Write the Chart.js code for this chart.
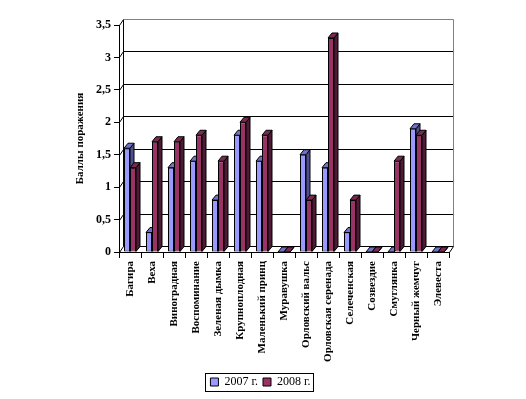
<!DOCTYPE html>
<html><head><meta charset="utf-8">
<script src="https://cdn.jsdelivr.net/npm/chart.js@4/dist/chart.umd.min.js"></script>
<style>html,body{margin:0;padding:0;background:#fff;}canvas{display:block;}</style>
</head><body>
<canvas id="c" width="526" height="399"></canvas>
<script>
const categories = ['Багира','Веха','Виноградная','Воспоминание','Зеленая дымка','Крупноплодная','Маленький принц','Муравушка','Орловский вальс','Орловская серенада','Селеченская','Созвездие','Смуглянка','Черный жемчуг','Элевеста'];
const series2007 = [1.6, 0.3, 1.3, 1.4, 0.8, 1.8, 1.4, 0, 1.5, 1.3, 0.3, 0, 0, 1.9, 0];
const series2008 = [1.3, 1.7, 1.7, 1.8, 1.4, 2.0, 1.8, 0, 0.8, 3.3, 0.8, 0, 1.4, 1.8, 0];
const seriesNames = ['2007 г.', '2008 г.'];
const yAxisTitle = 'Баллы поражения';
const yMin = 0, yMax = 3.5, yStep = 0.5;

const SERIF = "'Liberation Serif', 'Times New Roman', serif";
const FRONT = ['#9999FF', '#993366'];
const TOP = ['#7272C4', '#7A2952'];
const SIDE = ['#4F4F8E', '#4E1A35'];
const DX = 4, DY = -6, BDX = 4, BDY = -5;

function poly(ctx, pts, fill) {
  ctx.beginPath();
  ctx.moveTo(pts[0][0], pts[0][1]);
  for (let i = 1; i < pts.length; i++) ctx.lineTo(pts[i][0], pts[i][1]);
  ctx.closePath();
  ctx.fillStyle = fill; ctx.fill();
  ctx.strokeStyle = '#000'; ctx.lineWidth = 1; ctx.stroke();
}
function line(ctx, x1, y1, x2, y2, c) {
  ctx.beginPath(); ctx.moveTo(x1, y1); ctx.lineTo(x2, y2);
  ctx.strokeStyle = c; ctx.lineWidth = 1; ctx.stroke();
}

const threeD = {
  id: 'threeD',
  beforeDatasetsDraw(chart) {
    const ctx = chart.ctx, a = chart.chartArea, ys = chart.scales.y;
    ctx.save();
    const L = a.left + 0.5, R = a.right + 0.5;
    ys.ticks.forEach(t => {
      const py = Math.round(ys.getPixelForValue(t.value)) + 0.5;
      if (t.value < yMax) line(ctx, L + DX, py + DY, R + DX, py + DY, '#000');
      line(ctx, L, py, L + DX, py + DY, '#000');
    });
    const T = Math.round(a.top) + 0.5 + DY, B = Math.round(a.bottom) + 0.5 + DY;
    line(ctx, L + DX, T, L + DX, B, '#000');
    line(ctx, L + DX, T, R + DX, T, '#808080');
    line(ctx, R + DX, T, R + DX, B, '#808080');
    line(ctx, R, Math.round(a.bottom) + 0.5, R + DX, B, '#000');
    const metas = [0, 1].map(i => chart.getDatasetMeta(i));
    for (let j = 0; j < categories.length; j++) {
      metas.forEach((m, i) => {
        const p = m.data[j].getProps(['x', 'y', 'base', 'width'], true);
        const x1 = p.x - p.width / 2, x2 = p.x + p.width / 2;
        const top = p.y, base = p.base;
        poly(ctx, [[x2, top], [x2 + BDX, top + BDY], [x2 + BDX, base + BDY], [x2, base]], SIDE[i]);
        poly(ctx, [[x1, top], [x2, top], [x2 + BDX, top + BDY], [x1 + BDX, top + BDY]], TOP[i]);
      });
    }
    ctx.restore();
  },
  afterDraw(chart) {
    const lg = chart.legend;
    if (!lg || !lg.legendHitBoxes || !lg.legendHitBoxes.length) return;
    const hb = lg.legendHitBoxes;
    const l = Math.min(...hb.map(h => h.left)), r = Math.max(...hb.map(h => h.left + h.width));
    const t = Math.min(...hb.map(h => h.top)), b = Math.max(...hb.map(h => h.top + h.height));
    const ctx = chart.ctx;
    ctx.save();
    ctx.strokeStyle = '#000'; ctx.lineWidth = 1;
    ctx.strokeRect(Math.round(l - 5) + 0.5, Math.round(t - 3) + 0.5, Math.round(r - l + 8), Math.round(b - t + 6));
    ctx.restore();
  }
};

new Chart(document.getElementById('c'), {
  type: 'bar',
  data: {
    labels: categories,
    datasets: [
      { label: seriesNames[0], data: series2007, backgroundColor: FRONT[0], borderColor: '#000', borderWidth: 1, borderSkipped: false },
      { label: seriesNames[1], data: series2008, backgroundColor: FRONT[1], borderColor: '#000', borderWidth: 1, borderSkipped: false }
    ]
  },
  options: {
    responsive: false,
    animation: false,
    events: [],
    layout: { padding: { left: 72, top: 25, right: 77, bottom: 1 } },
    datasets: { bar: { categoryPercentage: 12 / 22, barPercentage: 1 } },
    plugins: {
      legend: {
        position: 'bottom',
        labels: {
          boxWidth: 8, boxHeight: 8, padding: 5, color: '#000',
          font: { family: SERIF, size: 12 }
        }
      },
      tooltip: { enabled: false }
    },
    scales: {
      x: {
        grid: { display: true, drawOnChartArea: false, drawTicks: true, tickLength: 6, color: '#000', offset: true },
        border: { display: true, color: '#000' },
        ticks: {
          autoSkip: false, maxRotation: 90, minRotation: 90, padding: 3, color: '#000',
          font: { family: SERIF, size: 11, weight: 'bold' }
        },
        afterFit(s) { s.height = 119; }
      },
      y: {
        min: yMin, max: yMax,
        grid: { display: true, drawOnChartArea: false, drawTicks: true, tickLength: 5, color: '#000' },
        border: { display: true, color: '#000' },
        ticks: {
          stepSize: yStep, padding: 3, color: '#000',
          font: { family: SERIF, size: 12, weight: 'bold' },
          callback: v => String(v).replace('.', ',')
        },
        title: {
          display: true, text: yAxisTitle, color: '#000', padding: { top: 2, bottom: 0 },
          font: { family: SERIF, size: 11, weight: 'bold' }
        },
        afterFit(s) { s.width = 47; }
      }
    }
  },
  plugins: [threeD]
});
</script>
</body></html>
